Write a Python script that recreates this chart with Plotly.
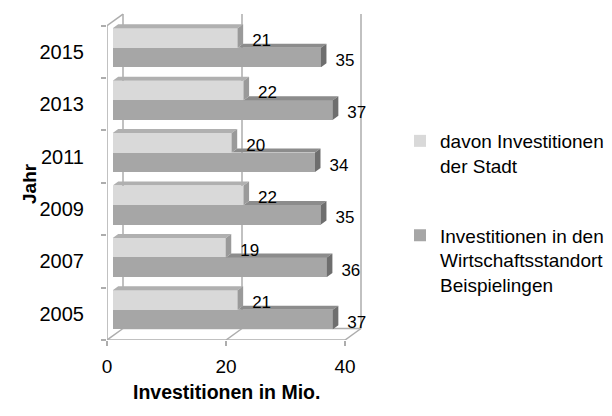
import plotly.graph_objects as go

# ---------------- data ----------------
years = ["2005", "2007", "2009", "2011", "2013", "2015"]
stadt = [21, 19, 22, 20, 22, 21]
gesamt = [37, 36, 35, 34, 37, 35]
x_ticks = [0, 20, 40]
name_stadt = "davon Investitionen<br>der Stadt"
name_gesamt = "Investitionen in den<br>Wirtschaftsstandort<br>Beispielingen"
x_title = "Investitionen in Mio."
y_title = "Jahr"

# ---------------- geometry ----------------
# the page places the figure 8 px from the window's top-left corner (body margin),
# so every screen position is expressed in figure pixels as (screen - OFF)
OFF = 8
W, H = 612 - OFF, 416 - OFF
plot_left_s, plot_top_s, plot_bottom_s = 107, 8, 340   # screen px
plot_w = 273
plot_h = plot_bottom_s - plot_top_s
ML = plot_left_s - OFF
MT = plot_top_s - OFF
MB = H - (plot_bottom_s - OFF)
MR = W - ML - plot_w

PX_X = 5.95   # px per x unit
PX_Y = 52.4   # px per category
x_max = plot_w / PX_X
y_min = -0.5
y_max = y_min + plot_h / PX_Y


def dx(p):
    return p / PX_X


def dy(p):
    return p / PX_Y


def paper_x(screen_px):
    return (screen_px - plot_left_s) / plot_w


def paper_y(screen_py):
    return (plot_bottom_s - screen_py) / plot_h


wall_dx, wall_dy = dx(16), dy(11.5)
bar_x0 = dx(5.7)
side_dx, side_dy = dx(5.5), dy(4)
bar_w = dy(19.5)
off_light = dy(13.75)
off_dark = -dy(5.75)
top_cat = len(years) - 0.5

FONT = "Liberation Sans, Arial, sans-serif"

C_LIGHT, C_LIGHT_TOP, C_LIGHT_SIDE = "#d9d9d9", "#b0b0b0", "#9a9a9a"
C_DARK, C_DARK_TOP, C_DARK_SIDE = "#a6a6a6", "#8c8c8c", "#6e6e6e"
C_GRID = "#adadad"

pos = list(range(len(years)))

fig = go.Figure()

# front faces
fig.add_trace(go.Bar(
    y=[p + off_light for p in pos], x=stadt, base=bar_x0, width=bar_w,
    orientation="h", name=name_stadt, marker=dict(color=C_LIGHT, line=dict(width=0)),
    legendgroup="a", hoverinfo="skip"))
fig.add_trace(go.Bar(
    y=[p + off_dark for p in pos], x=gesamt, base=bar_x0, width=bar_w,
    orientation="h", name=name_gesamt, marker=dict(color=C_DARK, line=dict(width=0)),
    legendgroup="b", hoverinfo="skip"))


def face_trace(xs, ys, color):
    return go.Scatter(x=xs, y=ys, mode="lines", fill="toself", fillcolor=color,
                      line=dict(width=0, color=color), showlegend=False, hoverinfo="skip")


lt_x, lt_y, ls_x, ls_y, dt_x, dt_y, ds_x, ds_y = ([] for _ in range(8))
for p, vl, vd in zip(pos, stadt, gesamt):
    x0 = bar_x0
    xl = bar_x0 + vl
    xd = bar_x0 + vd
    ylt = p + off_light + bar_w / 2
    ylb = ylt - bar_w
    ydt = p + off_dark + bar_w / 2
    ydb = ydt - bar_w
    # light top face
    lt_x += [x0, xl, xl + side_dx, x0 + side_dx, x0, None]
    lt_y += [ylt, ylt, ylt + side_dy, ylt + side_dy, ylt, None]
    # light side face
    ls_x += [xl, xl + side_dx, xl + side_dx, xl, xl, None]
    ls_y += [ylt, ylt + side_dy, ylb + side_dy, ylb, ylt, None]
    # dark top face (visible part)
    xs = bar_x0 + min(vl, vd)
    dt_x += [xs, xd, xd + side_dx, xs + side_dx, xs, None]
    dt_y += [ydt, ydt, ydt + side_dy, ydt + side_dy, ydt, None]
    # dark side face
    ds_x += [xd, xd + side_dx, xd + side_dx, xd, xd, None]
    ds_y += [ydt, ydt + side_dy, ydb + side_dy, ydb, ydt, None]

fig.add_trace(face_trace(dt_x, dt_y, C_DARK_TOP))
fig.add_trace(face_trace(ds_x, ds_y, C_DARK_SIDE))
fig.add_trace(face_trace(lt_x, lt_y, C_LIGHT_TOP))
fig.add_trace(face_trace(ls_x, ls_y, C_LIGHT_SIDE))

# value labels
gap = dx(9)
fig.add_trace(go.Scatter(
    x=[bar_x0 + v + side_dx + gap for v in stadt],
    y=[p + off_light - dy(3.75) for p in pos],
    text=[str(v) for v in stadt], mode="text", textposition="middle right",
    textfont=dict(family=FONT, size=17, color="#000"), showlegend=False, hoverinfo="skip"))
fig.add_trace(go.Scatter(
    x=[bar_x0 + v + side_dx + gap for v in gesamt],
    y=[p + off_dark - dy(4.25) for p in pos],
    text=[str(v) for v in gesamt], mode="text", textposition="middle right",
    textfont=dict(family=FONT, size=17, color="#000"), showlegend=False, hoverinfo="skip"))

# walls / floor
shapes = []


def seg(x0, y0, x1, y1, color=C_GRID, w=1.5):
    shapes.append(dict(type="line", xref="x", yref="y", x0=x0, y0=y0, x1=x1, y1=y1,
                       line=dict(color=color, width=w), layer="below"))


seg(0, y_min, 0, top_cat)
seg(0, top_cat, wall_dx, top_cat + wall_dy)
seg(wall_dx, y_min + wall_dy, wall_dx, top_cat + wall_dy)
for t in x_ticks[1:]:
    seg(t + wall_dx, y_min + wall_dy, t + wall_dx, top_cat + wall_dy)
seg(0, y_min, x_ticks[-1], y_min)
seg(wall_dx, y_min + wall_dy, x_ticks[-1] + wall_dx, y_min + wall_dy)
for t in x_ticks:
    seg(t, y_min, t + wall_dx, y_min + wall_dy)

fig.update_layout(
    width=W, height=H,
    margin=dict(l=ML, r=MR, t=MT, b=MB, pad=0, autoexpand=False),
    paper_bgcolor="white", plot_bgcolor="white",
    barmode="overlay", bargap=0,
    shapes=shapes,
    showlegend=True,
    legend=dict(x=paper_x(400), xanchor="left", y=paper_y(122),
                yanchor="top", valign="top", traceorder="grouped", tracegroupgap=42,
                font=dict(family=FONT, size=19, color="#000"), bgcolor="rgba(0,0,0,0)"),
    xaxis=dict(range=[0, x_max], tickvals=x_ticks, ticktext=[str(t) for t in x_ticks],
               ticks="outside", ticklen=5, tickwidth=1.5, tickcolor=C_GRID,
               ticklabelstandoff=4,
               showgrid=False, zeroline=False, showline=False, automargin=False,
               tickfont=dict(family=FONT, size=19, color="#000")),
    yaxis=dict(range=[y_min, y_max], tickvals=pos, ticktext=years, ticks="",
               minor=dict(tickvals=[p - 0.5 for p in pos] + [top_cat], ticks="outside",
                          ticklen=5, tickwidth=1.5, tickcolor=C_GRID),
               ticklabelstandoff=22, automargin=False,
               showgrid=False, zeroline=False, showline=False,
               tickfont=dict(family=FONT, size=20, color="#000")),
    annotations=[
        dict(text="<b>" + y_title + "</b>", xref="paper", yref="paper",
             x=paper_x(30), y=paper_y(184), textangle=-90,
             showarrow=False, xanchor="center", yanchor="middle",
             font=dict(family=FONT, size=19, color="#000")),
        dict(text="<b>" + x_title + "</b>", xref="x", yref="paper",
             x=x_ticks[-1] / 2, y=paper_y(392),
             showarrow=False, xanchor="center", yanchor="middle",
             font=dict(family=FONT, size=19.5, color="#000")),
    ],
)

fig.write_html("out.html")
